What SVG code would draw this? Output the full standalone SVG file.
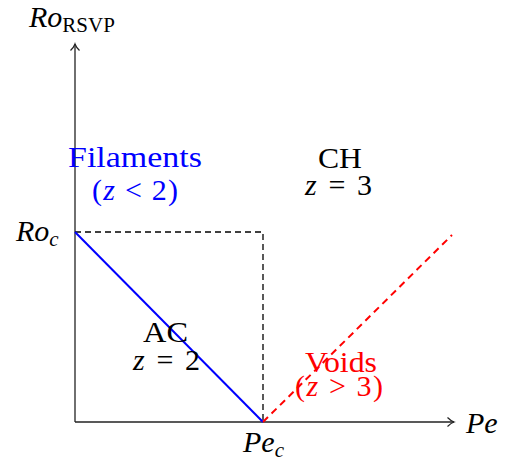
<svg xmlns="http://www.w3.org/2000/svg" width="505" height="463" viewBox="0 0 505 463">
<style>
text{font-family:'Liberation Serif','Times New Roman',serif;font-size:30px;}
.it{font-style:italic;}
.sub{font-size:21px;}
.axis{stroke:#222;stroke-width:1.3;fill:none;}
.dash{stroke:#000;stroke-width:1.3;stroke-dasharray:6 4;fill:none;}
</style>
<defs>
<marker id="arr" markerWidth="12" markerHeight="12" refX="10" refY="6" orient="auto" markerUnits="userSpaceOnUse">
<path d="M3.5 1.5 Q7 5 10 6 Q7 7 3.5 10.5" fill="none" stroke="#222" stroke-width="1.2"/>
</marker>
</defs>
<g id="connectors">
<line class="axis" x1="75" y1="422" x2="75" y2="44" marker-end="url(#arr)"/>
<line class="axis" x1="75" y1="422" x2="454" y2="422" marker-end="url(#arr)"/>
<polyline class="dash" points="75,232 263,232 263,422"/>
<line x1="75" y1="232" x2="263" y2="422" stroke="#0000ff" stroke-width="2"/>
<line x1="263" y1="422" x2="452" y2="235" stroke="#ff0000" stroke-width="2" stroke-dasharray="7 5"/>
</g>
<g id="label-ro-rsvp"><text x="29" y="27"><tspan class="it">Ro</tspan><tspan class="sub" dy="5">RSVP</tspan></text></g>
<g id="label-pe"><text x="466" y="433" class="it">Pe</text></g>
<g id="label-pec"><text x="243" y="452"><tspan class="it">Pe</tspan><tspan class="sub it" dy="5">c</tspan></text></g>
<g id="label-roc"><text x="16" y="241"><tspan class="it">Ro</tspan><tspan class="sub it" dy="5">c</tspan></text></g>
<g id="filaments" fill="#0000ff">
<text x="68" y="167" textLength="134" lengthAdjust="spacingAndGlyphs">Filaments</text>
<text x="92" y="200" textLength="86">(<tspan class="it">z</tspan> &lt; 2)</text>
</g>
<g id="ch">
<text x="318" y="168" textLength="44" lengthAdjust="spacingAndGlyphs">CH</text>
<text x="305" y="195" textLength="67"><tspan class="it">z</tspan> = 3</text>
</g>
<g id="ac">
<text x="143" y="342" textLength="45" lengthAdjust="spacingAndGlyphs">AC</text>
<text x="133" y="370" textLength="67"><tspan class="it">z</tspan> = 2</text>
</g>
<g id="voids" fill="#ff0000">
<text x="305" y="372" textLength="72" lengthAdjust="spacingAndGlyphs">Voids</text>
<text x="295" y="396" textLength="88">(<tspan class="it">z</tspan> &gt; 3)</text>
</g>
</svg>
